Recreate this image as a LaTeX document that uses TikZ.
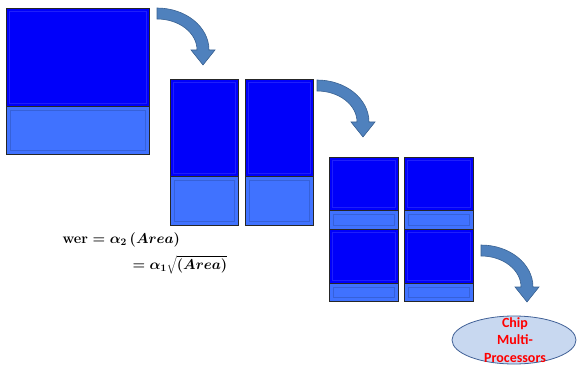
\documentclass[tikz,border=0pt]{standalone}
\usepackage{fontspec}
\newfontfamily\calibri{Carlito}
\usetikzlibrary{shapes.geometric, positioning}

\definecolor{coreblue}{RGB}{0,0,250}
\definecolor{cacheblue}{RGB}{64,114,255}
\definecolor{arrfill}{RGB}{79,129,189}
\definecolor{arredge}{RGB}{58,98,146}
\definecolor{ovalfill}{RGB}{200,216,240}
\definecolor{ovaledge}{RGB}{64,96,150}
\newcommand{\eqfont}{\fontsize{14.5}{17}\selectfont\boldmath}

\begin{document}
\begin{tikzpicture}[x=1pt, y=1pt, node distance=0pt,
  core/.style={rectangle,draw=black!85,line width=0.8pt,fill=coreblue,outer sep=0pt,inner sep=0pt},
  cache/.style={rectangle,draw=black!85,line width=0.8pt,fill=cacheblue,outer sep=0pt,inner sep=0pt},
  bevel/.style={draw=white!12!coreblue,line width=0.4pt},
  cbevel/.style={draw=black!15!cacheblue,line width=0.5pt},
  bendarr/.pic={\filldraw[fill=arrfill,draw=arredge,line width=0.6pt]
    (0,0) arc[start angle=90,end angle=0,x radius=52,y radius=42] -- (58,-42) -- (46,-57)
    -- (34,-42) -- (40,-42) arc[start angle=0,end angle=90,x radius=40,y radius=31] -- cycle;}]
  \useasboundingbox (0,0) rectangle (577,-366);

  % one big core
  \node[core,minimum width=143,minimum height=98,anchor=north west](c1) at (6,-8){};
  \node[cache,minimum width=143,minimum height=48,below=of c1](k1){};

  % two cores
  \node[core,minimum width=68,minimum height=97,anchor=north west](c2a) at (170,-79){};
  \node[cache,minimum width=68,minimum height=49,below=of c2a](k2a){};
  \node[core,minimum width=68,minimum height=97,right=7 of c2a](c2b){};
  \node[cache,minimum width=68,minimum height=49,below=of c2b](k2b){};

  % four cores
  \node[core,minimum width=69,minimum height=53,anchor=north west](c4a) at (329,-157){};
  \node[cache,minimum width=69,minimum height=19,below=of c4a](k4a){};
  \node[core,minimum width=69,minimum height=53,right=6 of c4a](c4b){};
  \node[cache,minimum width=69,minimum height=19,below=of c4b](k4b){};
  \node[core,minimum width=69,minimum height=54,below=of k4a](c4c){};
  \node[cache,minimum width=69,minimum height=18,below=of c4c](k4c){};
  \node[core,minimum width=69,minimum height=54,below=of k4b](c4d){};
  \node[cache,minimum width=69,minimum height=18,below=of c4d](k4d){};

  \foreach \n in {c1,c2a,c2b,c4a,c4b,c4c,c4d}
    \draw[bevel] ([shift={(3,-3)}]\n.north west) rectangle ([shift={(-3,3)}]\n.south east);
  \foreach \n in {k1,k2a,k2b,k4a,k4b,k4c,k4d}
    \draw[cbevel] ([shift={(4,-4)}]\n.north west) rectangle ([shift={(-4,4)}]\n.south east);

  \node[anchor=west,font=\eqfont](eqa) at (59,-240){\textbf{wer}\ensuremath{{}=\alpha\sb{2}\,(Area)}};
  \node[anchor=west,font=\eqfont](eqb) at (129,-265){\ensuremath{=\alpha\sb{1}\sqrt{(Area)}}};

  \pic at (157,-8) {bendarr};
  \pic at (317,-80) {bendarr};
  \pic at (481,-245) {bendarr};

  \node[ellipse,draw=ovaledge,fill=ovalfill,line width=0.8pt,minimum width=124,minimum height=48](cmp) at (514,-340){};
  \node[text=red,align=center,font=\calibri\bfseries\fontsize{14}{17.5}\selectfont](cmpLbl) at (515,-340){Chip\\Multi-\\Processors};
\end{tikzpicture}
\end{document}
